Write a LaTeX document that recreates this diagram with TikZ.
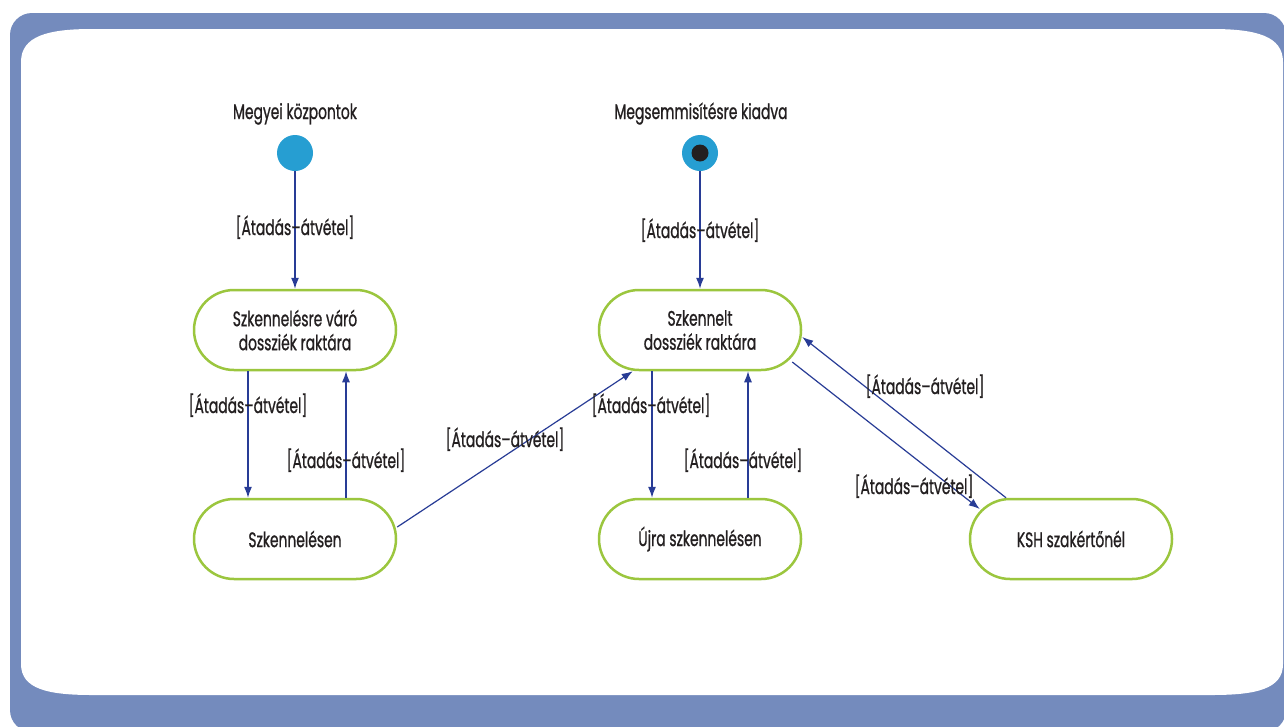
\documentclass[tikz,border=0pt]{standalone}
\usepackage{fontspec}
\setmainfont[FakeStretch=0.66,FakeBold=0.9]{Poppins}
\usetikzlibrary{arrows.meta,calc}
\definecolor{frameblue}{RGB}{116,139,189}
\definecolor{stgreen}{RGB}{155,198,62}
\definecolor{arrblue}{RGB}{40,60,150}
\definecolor{startblue}{RGB}{38,158,210}
\definecolor{txt}{RGB}{35,31,32}
\tikzset{
  stbox/.style={draw=stgreen, line width=2.5pt, rounded corners=40pt, minimum width=202pt, minimum height=80pt, align=center, inner sep=0pt, text=txt, fill=white},
  arr/.style={draw=arrblue, line width=1.2pt, -{Latex[length=11pt,width=8pt]}},
  lbl/.style={anchor=base, inner sep=0pt, text=txt},
  startdot/.style={circle, fill=startblue, minimum size=36pt, inner sep=0pt},
  enddot/.style={circle, fill=txt, minimum size=17pt, inner sep=0pt}
}
\begin{document}
\begin{tikzpicture}[x=1pt,y=-1pt,font=\fontsize{21}{24}\selectfont]
\useasboundingbox (0,0) rectangle (1284,726);
\fill[white] (0,0) rectangle (1284,726);
\fill[frameblue, rounded corners=22pt] (10,13) rectangle (1286,732);
\fill[white] (21,62) .. controls (21,36) and (48,29) .. (92,29) -- (1212,29) .. controls (1256,29) and (1283,36) .. (1283,62)
  -- (1283,664) .. controls (1283,689) and (1256,695) .. (1212,695) -- (92,695) .. controls (48,695) and (21,689) .. (21,664) -- cycle;

% start states
\node[startdot] (s1) at (295,153) {};
\node[lbl] (t1) at (295,119) {Megyei központok};
\node[startdot] (s2) at (700,153) {};
\node[enddot] (s2c) at (700,153) {};
\node[lbl] (t2) at (701,119) {Megsemmisítésre kiadva};

% states
\node[stbox] (A) at (295,330) {Szkennelésre váró\\dossziék raktára};
\node[stbox] (B) at (700,330) {Szkennelt\\dossziék raktára};
\node[stbox] (C) at (295,539) {Szkennelésen};
\node[stbox] (D) at (700,539) {Újra szkennelésen};
\node[stbox] (E) at (1071,539) {KSH szakértőnél};

% connectors
\draw[arr] (s1) -- (A);
\draw[arr] ([xshift=-47pt]A.south) -- ([xshift=-47pt]C.north);
\draw[arr] ([xshift=51pt]C.north) -- ([xshift=51pt]A.south);
\draw[arr] ([yshift=12pt]C.east) -- ([xshift=35pt]B.south west);
\draw[arr] (s2) -- (B);
\draw[arr] ([xshift=-48pt]B.south) -- ([xshift=-48pt]D.north);
\draw[arr] ([xshift=48pt]D.north) -- ([xshift=48pt]B.south);
\draw[arr] ([xshift=-10pt,yshift=-32pt]B.east) -- ([xshift=11pt,yshift=30pt]E.west);
\draw[arr] ([xshift=-65pt]E.north) -- ([yshift=-7pt]B.east);

% labels
\node[lbl] (l1) at (295,235) {[Átadás–átvétel]};
\node[lbl] (l2) at (248,413) {[Átadás–átvétel]};
\node[lbl] (l3) at (346,468) {[Átadás–átvétel]};
\node[lbl] (l4) at (505,447) {[Átadás–átvétel]};
\node[lbl] (l5) at (700,238) {[Átadás–átvétel]};
\node[lbl] (l6) at (651,413) {[Átadás–átvétel]};
\node[lbl] (l7) at (743,468) {[Átadás–átvétel]};
\node[lbl] (l8) at (914,494) {[Átadás–átvétel]};
\node[lbl] (l9) at (925,394) {[Átadás–átvétel]};
\end{tikzpicture}
\end{document}
